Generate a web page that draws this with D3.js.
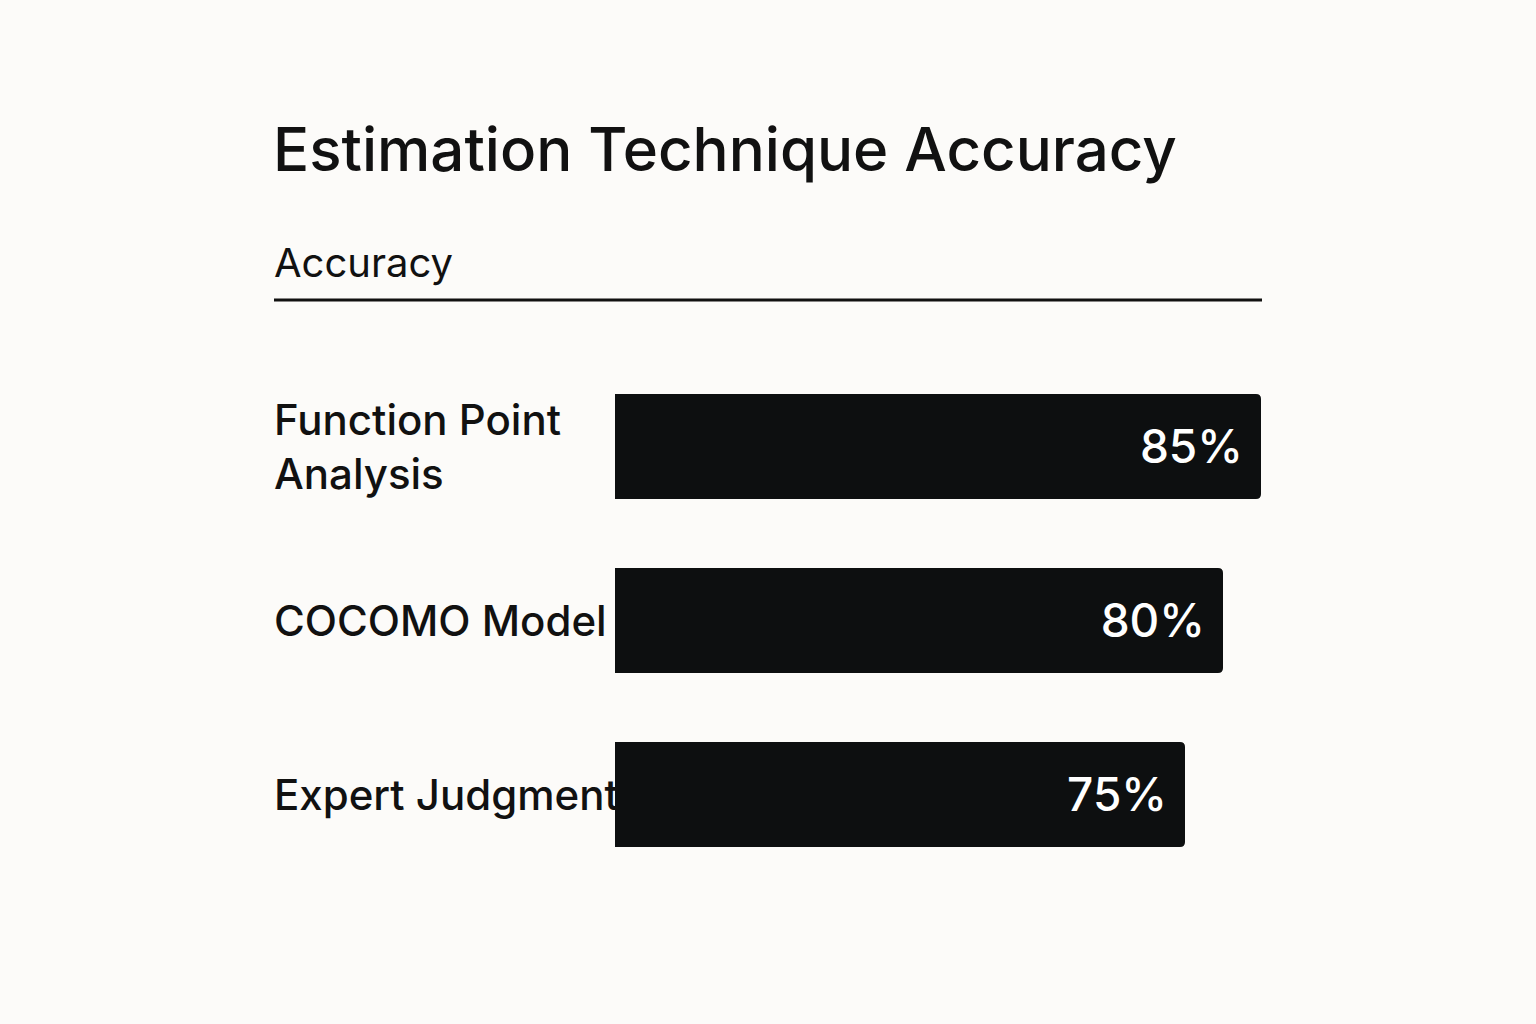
<!DOCTYPE html>
<html>
<head>
<meta charset="utf-8">
<script src="https://cdn.jsdelivr.net/npm/d3@7"></script>
<style>
  body { margin: 0; background: #fcfbf9; }
  svg { display: block; font-family: Inter, 'Noto Sans', sans-serif; }
</style>
</head>
<body>
<div id="chart"></div>
<script>
const techniques = [['Function Point', 'Analysis'], ['COCOMO Model'], ['Expert Judgment']];
const accuracy = [85, 80, 75];

const width = 1536;
const height = 1024;

const svg = d3.select('#chart')
  .append('svg')
  .attr('width', width)
  .attr('height', height);

svg.append('rect').attr('width', width).attr('height', height).attr('fill', '#fcfbf9');

svg.append('text')
  .attr('x', 273).attr('y', 171)
  .attr('font-size', 60).attr('font-weight', 500)
  .attr('fill', '#111')
  .text('Estimation Technique Accuracy');

svg.append('text')
  .attr('x', 274).attr('y', 277)
  .attr('font-size', 40)
  .attr('fill', '#111')
  .text('Accuracy');

svg.append('line')
  .attr('x1', 274).attr('x2', 1262)
  .attr('y1', 300).attr('y2', 300)
  .attr('stroke', '#111').attr('stroke-width', 3);

const xScale = d3.scaleLinear().domain([0, 85]).range([0, 646]);
const yScale = d3.scaleBand()
  .domain(d3.range(techniques.length))
  .range([394, 847])
  .paddingInner(69 / 174)
  .paddingOuter(0);

const rows = svg.selectAll('g.row')
  .data(accuracy)
  .join('g')
  .attr('class', 'row')
  .attr('transform', (d, i) => `translate(0, ${yScale(i)})`);

rows.append('path')
  .attr('fill', '#0d0f10')
  .attr('d', (d) => {
    const w = xScale(d), h = yScale.bandwidth(), r = 5, x = 615;
    return `M${x},0 H${x + w - r} Q${x + w},0 ${x + w},${r} V${h - r} Q${x + w},${h} ${x + w - r},${h} H${x} Z`;
  });

rows.append('text')
  .attr('x', (d) => 615 + xScale(d) - 18)
  .attr('y', yScale.bandwidth() / 2 + 16)
  .attr('text-anchor', 'end')
  .attr('font-size', 46).attr('font-weight', 500)
  .attr('fill', '#fff')
  .text((d) => `${d}%`);

rows.each(function (d, i) {
  const lines = techniques[i];
  const t = d3.select(this).append('text')
    .attr('font-size', 42).attr('font-weight', 500)
    .attr('fill', '#111');
  const lh = 54;
  const y0 = yScale.bandwidth() / 2 + 15 - (lines.length - 1) * lh / 2;
  lines.forEach((s, k) => {
    t.append('tspan').attr('x', 274).attr('y', y0 + k * lh).text(s);
  });
});
</script>
</body>
</html>
